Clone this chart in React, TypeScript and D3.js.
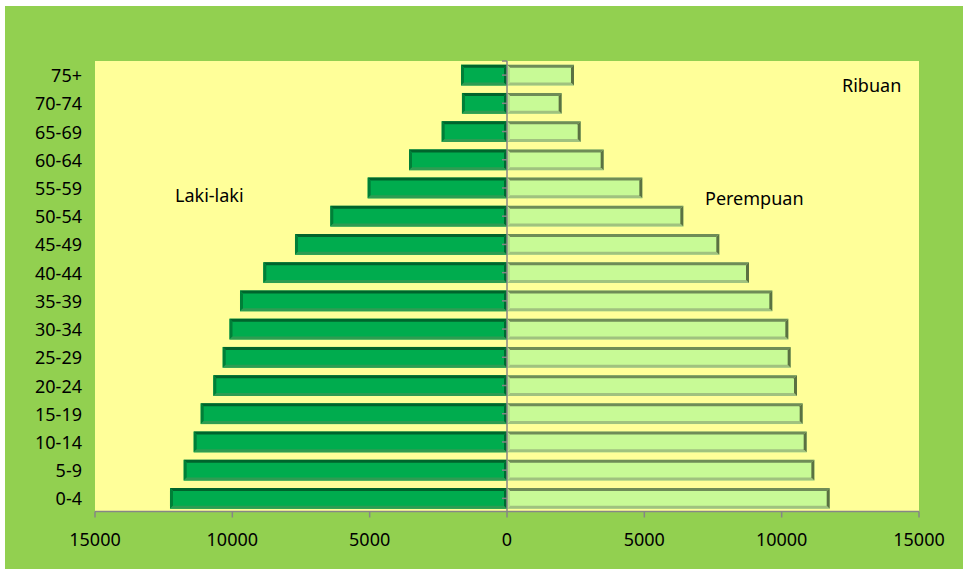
import React from "react";
import * as d3 from "d3";

const categories = ["75+", "70-74", "65-69", "60-64", "55-59", "50-54", "45-49", "40-44", "35-39", "30-34", "25-29", "20-24", "15-19", "10-14", "5-9", "0-4"];
const male = [1675, 1640, 2378, 3568, 5072, 6433, 7719, 8873, 9721, 10103, 10351, 10693, 11152, 11407, 11771, 12270];
const female = [2439, 1990, 2683, 3520, 4927, 6420, 7730, 8811, 9660, 10243, 10328, 10558, 10765, 10911, 11190, 11749];
const xTicks = [-15000, -10000, -5000, 0, 5000, 10000, 15000];

const W = 963;
const H = 569;
const plot = { left: 95, right: 919, top: 61, bottom: 511.5 };
const FONT = "'Noto Sans', 'Open Sans', sans-serif";

export default function App() {
  const x = d3.scaleLinear().domain([-15000, 15000]).range([plot.left, plot.right]);
  const y = d3.scaleBand<string>().domain(categories).range([plot.top, plot.bottom + 1]).paddingInner(0.264).paddingOuter(0.132);
  const x0 = x(0);
  const b = 3;
  const bh = y.bandwidth();

  return (
    <svg width={W} height={H} style={{ position: "absolute", left: 0, top: 0 }} fontFamily={FONT}>
      <rect x={0} y={0} width={W} height={H} fill="#ffffff" />
      <rect x={5} y={6} width={W - 5} height={H - 6} fill="#92D050" />
      <rect x={plot.left} y={plot.top} width={plot.right - plot.left} height={plot.bottom - plot.top} fill="#FFFF99" />

      {categories.map((c, i) => {
        const yt = y(c)!;
        const yb = yt + bh;
        const ml = x(-male[i]);
        const mr = x0;
        const fl = x0;
        const fr = x(female[i]);
        return (
          <g key={c}>
            {/* male bar */}
            <rect x={ml} y={yt} width={mr - ml} height={bh} fill="#00AC4E" />
            <polygon points={`${ml},${yt} ${mr},${yt} ${mr - b},${yt + b} ${ml + b},${yt + b}`} fill="#00642C" />
            <polygon points={`${ml},${yt} ${ml + b},${yt + b} ${ml + b},${yb - b} ${ml},${yb}`} fill="#007F38" />
            <polygon points={`${ml},${yb} ${ml + b},${yb - b} ${mr - b},${yb - b} ${mr},${yb}`} fill="#2E9C52" />
            <polygon points={`${mr},${yt} ${mr - b},${yt + b} ${mr - b},${yb - b} ${mr},${yb}`} fill="#006A30" />
            {/* female bar */}
            <rect x={fl} y={yt} width={fr - fl} height={bh} fill="#C8FA96" />
            <polygon points={`${fl},${yt} ${fr},${yt} ${fr - b},${yt + b} ${fl + b},${yt + b}`} fill="#6F8C57" />
            <polygon points={`${fl},${yb} ${fl + b},${yb - b} ${fr - b},${yb - b} ${fr},${yb}`} fill="#A0C27F" />
            <polygon points={`${fr},${yt} ${fr - b},${yt + b} ${fr - b},${yb - b} ${fr},${yb}`} fill="#5A7142" />
            <polygon points={`${fl},${yt} ${fl + b},${yt + b} ${fl + b},${yb - b} ${fl},${yb}`} fill="#B6E08A" />
            {/* category label */}
            <text x={82} y={yt + bh / 2} textAnchor="end" dominantBaseline="central" fontSize={18} fill="#000">
              {c}
            </text>
            {/* vertical axis tick */}
            <line x1={x0 - 5} x2={x0} y1={yt + bh / 2} y2={yt + bh / 2} stroke="#868686" strokeWidth={1.5} />
          </g>
        );
      })}

      {/* vertical axis */}
      <line x1={x0} x2={x0} y1={plot.top} y2={plot.bottom} stroke="#868686" strokeWidth={1.5} />
      <line x1={x0 - 5} x2={x0} y1={plot.top} y2={plot.top} stroke="#868686" strokeWidth={1.5} />

      {/* horizontal axis */}
      <line x1={plot.left} x2={plot.right} y1={plot.bottom} y2={plot.bottom} stroke="#868686" strokeWidth={1.5} />
      {xTicks.map((t) => (
        <g key={t}>
          <line x1={x(t)} x2={x(t)} y1={plot.bottom} y2={plot.bottom + 6} stroke="#868686" strokeWidth={1.5} />
          <text x={x(t)} y={539} textAnchor="middle" dominantBaseline="central" fontSize={18} fill="#000">
            {Math.abs(t)}
          </text>
        </g>
      ))}

      <text x={175} y={202} fontSize={18} fill="#000">Laki-laki</text>
      <text x={705} y={205} fontSize={18} fill="#000">Perempuan</text>
      <text x={842} y={92} fontSize={18} fill="#000">Ribuan</text>
    </svg>
  );
}
